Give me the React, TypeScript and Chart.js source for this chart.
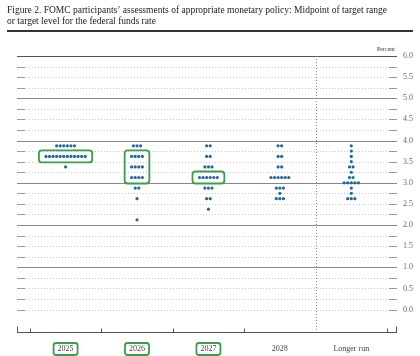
import React, { useEffect, useRef } from "react";
import { Chart, registerables } from "chart.js";

Chart.register(...registerables);

const titleLines = [
  "Figure 2. FOMC participants\u2019 assessments of appropriate monetary policy: Midpoint of target range",
  "or target level for the federal funds rate",
];
const categories = ["2025", "2026", "2027", "2028", "Longer run"];
const highlightedLabels = [true, true, true, false, false];

const rates2025 = [3.875, 3.625, 3.375];
const counts2025 = [6, 12, 1];
const rates2026 = [3.875, 3.625, 3.375, 3.125, 2.875, 2.625, 2.125];
const counts2026 = [3, 4, 4, 4, 2, 1, 1];
const rates2027 = [3.875, 3.625, 3.375, 3.125, 2.875, 2.625, 2.375];
const counts2027 = [2, 2, 3, 6, 3, 2, 1];
const rates2028 = [3.875, 3.625, 3.375, 3.125, 2.875, 2.75, 2.625];
const counts2028 = [2, 2, 2, 6, 3, 1, 3];
const ratesLonger = [3.875, 3.75, 3.625, 3.5, 3.375, 3.25, 3.125, 3.0, 2.875, 2.75, 2.625];
const countsLonger = [1, 1, 1, 1, 2, 1, 2, 5, 1, 1, 3];

// median highlight boxes (category index, low rate, high rate)
const boxCategories = [0, 1, 2];
const boxLow = [3.625, 3.125, 3.125];
const boxHigh = [3.625, 3.625, 3.125];

const yTickValues = [0, 0.5, 1, 1.5, 2, 2.5, 3, 3.5, 4, 4.5, 5, 5.5, 6];
const yGridValues = [
  0, 0.25, 0.5, 0.75, 1, 1.25, 1.5, 1.75, 2, 2.25, 2.5, 2.75, 3, 3.25, 3.5, 3.75,
  4, 4.25, 4.5, 4.75, 5, 5.25, 5.5, 5.75, 6,
];

const allRates = [rates2025, rates2026, rates2027, rates2028, ratesLonger];
const allCounts = [counts2025, counts2026, counts2027, counts2028, countsLonger];

const DOT_STEP = 0.05; // horizontal spacing between dots, in category units
const DOT_COLOR = "#1f6a97";
const GREEN = "#3c9d4c";

function buildPoints() {
  const pts: { x: number; y: number }[] = [];
  allRates.forEach((rates, ci) => {
    rates.forEach((r, ri) => {
      const n = allCounts[ci][ri];
      for (let j = 0; j < n; j++) {
        pts.push({ x: ci + (j - (n - 1) / 2) * DOT_STEP, y: r });
      }
    });
  });
  return pts;
}

function roundRect(ctx: CanvasRenderingContext2D, x: number, y: number, w: number, h: number, r: number) {
  ctx.beginPath();
  ctx.moveTo(x + r, y);
  ctx.lineTo(x + w - r, y);
  ctx.quadraticCurveTo(x + w, y, x + w, y + r);
  ctx.lineTo(x + w, y + h - r);
  ctx.quadraticCurveTo(x + w, y + h, x + w - r, y + h);
  ctx.lineTo(x + r, y + h);
  ctx.quadraticCurveTo(x, y + h, x, y + h - r);
  ctx.lineTo(x, y + r);
  ctx.quadraticCurveTo(x, y, x + r, y);
  ctx.closePath();
}

const decorPlugin = {
  id: "decor",
  beforeDatasetsDraw(chart: any) {
    const { ctx, chartArea, scales } = chart;
    const xs = scales.x;
    const ys = scales.y;
    const L = chartArea.left;
    const R = chartArea.right;
    const B = chartArea.bottom;
    const T = ys.getPixelForValue(6);
    ctx.save();
    // horizontal grid
    yGridValues.forEach((v) => {
      const y = Math.round(ys.getPixelForValue(v)) + 0.5;
      const isInt = Math.abs(v - Math.round(v)) < 1e-9 && v > 0;
      if (isInt) {
        ctx.setLineDash([]);
        ctx.strokeStyle = v === 6 ? "#555" : "#888";
        ctx.lineWidth = 1;
        ctx.beginPath();
        ctx.moveTo(L, y);
        ctx.lineTo(R, y);
        ctx.stroke();
      } else {
        ctx.setLineDash([1, 2]);
        ctx.strokeStyle = "#c8c8c8";
        ctx.lineWidth = 1;
        ctx.beginPath();
        ctx.moveTo(L + 9, y);
        ctx.lineTo(R - 9, y);
        ctx.stroke();
        ctx.setLineDash([]);
        ctx.strokeStyle = "#999";
        ctx.beginPath();
        ctx.moveTo(L, y);
        ctx.lineTo(L + 8, y);
        ctx.moveTo(R - 8, y);
        ctx.lineTo(R, y);
        ctx.stroke();
      }
    });
    // vertical dotted separator before "Longer run"
    const sx = Math.round(xs.getPixelForValue(3.5)) + 0.5;
    ctx.setLineDash([1, 2]);
    ctx.strokeStyle = "#888";
    ctx.beginPath();
    ctx.moveTo(sx, T);
    ctx.lineTo(sx, B);
    ctx.stroke();
    ctx.setLineDash([]);
    // bottom axis
    const by = Math.round(B) + 0.5;
    ctx.strokeStyle = "#555";
    ctx.beginPath();
    ctx.moveTo(L, by);
    ctx.lineTo(R, by);
    ctx.moveTo(L + 0.5, by);
    ctx.lineTo(L + 0.5, by - 6);
    ctx.moveTo(R - 0.5, by);
    ctx.lineTo(R - 0.5, by - 6);
    [-0.5, 0.5, 1.5, 2.5, 4.5].forEach((v) => {
      const tx = Math.round(xs.getPixelForValue(v)) + 0.5;
      ctx.moveTo(tx, by);
      ctx.lineTo(tx, by - 4);
    });
    ctx.stroke();
    ctx.restore();
  },
  afterDatasetsDraw(chart: any) {
    const { ctx, chartArea, scales } = chart;
    const xs = scales.x;
    const ys = scales.y;
    const R = chartArea.right;
    const B = chartArea.bottom;
    ctx.save();
    // title
    ctx.fillStyle = "#1a1a1a";
    ctx.font = "9.5px 'Liberation Serif'";
    ctx.textBaseline = "alphabetic";
    ctx.textAlign = "left";
    ctx.fillText(titleLines[0], 7, 13);
    ctx.fillText(titleLines[1], 7, 24);
    ctx.fillStyle = "#333";
    ctx.fillRect(7, 30, 406, 2);
    // Percent label
    ctx.font = "6px 'Liberation Serif'";
    ctx.textAlign = "right";
    ctx.fillStyle = "#333";
    ctx.fillText("Percent", R - 2, ys.getPixelForValue(6) - 5);
    // y labels
    ctx.font = "8px 'Liberation Serif'";
    ctx.textAlign = "left";
    ctx.textBaseline = "middle";
    ctx.fillStyle = "#666";
    yTickValues.forEach((v) => {
      ctx.fillText(v.toFixed(1), R + 6, ys.getPixelForValue(v));
    });
    // median boxes
    ctx.strokeStyle = GREEN;
    ctx.lineWidth = 1.8;
    boxCategories.forEach((ci, k) => {
      const rates = allRates[ci];
      let maxN = 0;
      rates.forEach((r, ri) => {
        if (r >= boxLow[k] - 1e-9 && r <= boxHigh[k] + 1e-9) maxN = Math.max(maxN, allCounts[ci][ri]);
      });
      const half = ((maxN - 1) / 2) * DOT_STEP;
      const x0 = xs.getPixelForValue(ci - half) - 7;
      const x1 = xs.getPixelForValue(ci + half) + 7;
      const y0 = ys.getPixelForValue(boxHigh[k]) - 6;
      const y1 = ys.getPixelForValue(boxLow[k]) + 6;
      roundRect(ctx, x0, y0, x1 - x0, y1 - y0, 3);
      ctx.stroke();
    });
    // category labels
    ctx.font = "8px 'Liberation Serif'";
    ctx.textAlign = "center";
    ctx.textBaseline = "middle";
    const ly = B + 17;
    categories.forEach((c, i) => {
      const cx = xs.getPixelForValue(i);
      ctx.fillStyle = "#444";
      ctx.fillText(c, cx, ly);
      if (highlightedLabels[i]) {
        ctx.strokeStyle = GREEN;
        ctx.lineWidth = 1.8;
        roundRect(ctx, cx - 12, ly - 6, 24, 12, 2.5);
        ctx.stroke();
      }
    });
    ctx.restore();
  },
};

export default function App() {
  const ref = useRef<HTMLCanvasElement | null>(null);
  useEffect(() => {
    if (!ref.current) return;
    const chart = new Chart(ref.current, {
      type: "scatter",
      data: {
        datasets: [
          {
            data: buildPoints(),
            backgroundColor: DOT_COLOR,
            borderColor: DOT_COLOR,
            borderWidth: 0,
            pointRadius: 1.6,
            pointHoverRadius: 1.6,
          },
        ],
      },
      options: {
        animation: false,
        responsive: false,
        events: [],
        layout: { padding: { left: 17, right: 23, top: 56, bottom: 24 } },
        plugins: { legend: { display: false }, tooltip: { enabled: false }, title: { display: false } },
        scales: {
          x: { type: "linear", min: -0.68, max: 4.64, display: false },
          y: { type: "linear", min: -0.53, max: 6, display: false },
        },
      },
      plugins: [decorPlugin],
    });
    return () => chart.destroy();
  }, []);
  return (
    <div style={{ position: "absolute", left: 0, top: 0, width: 420, height: 356, background: "#fff" }}>
      <canvas ref={ref} width={420} height={356} style={{ display: "block" }} />
    </div>
  );
}
